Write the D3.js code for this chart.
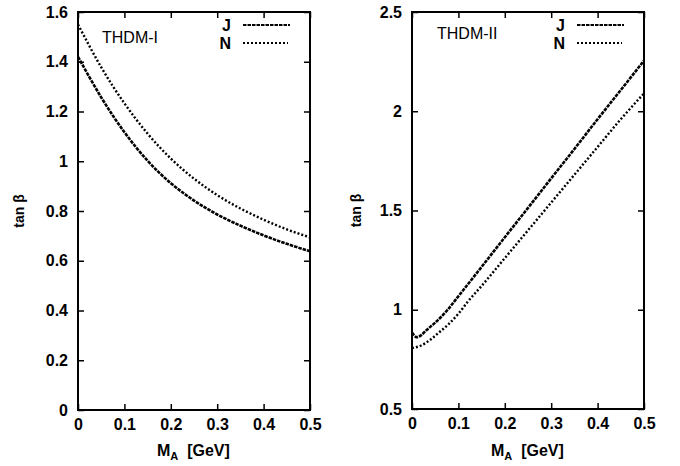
<!DOCTYPE html>
<html>
<head>
<meta charset="utf-8">
<script src="https://cdn.jsdelivr.net/npm/d3@7"></script>
<style>
body { margin: 0; background: #fff; }
text { font-family: "Liberation Sans", Arial, sans-serif; fill: #000; }
</style>
</head>
<body>
<div class="container"></div>
<script>
const width = 680
const height = 466

// M_A values [GeV]
const mA1 = [0, 0.05, 0.1, 0.15, 0.2, 0.25, 0.3, 0.35, 0.4, 0.45, 0.5]
const typeI_J = [1.42, 1.257, 1.117, 1.002, 0.912, 0.842, 0.786, 0.741, 0.702, 0.668, 0.638]
const typeI_N = [1.55, 1.378, 1.233, 1.111, 1.011, 0.930, 0.864, 0.810, 0.765, 0.726, 0.694]

const mA2J = [0, 0.01, 0.02, 0.03, 0.04, 0.05, 0.075, 0.1, 0.15, 0.2, 0.25, 0.3, 0.35, 0.4, 0.45, 0.5]
const typeII_J = [0.885, 0.862, 0.872, 0.895, 0.915, 0.935, 0.995, 1.068, 1.216, 1.365, 1.513, 1.662, 1.81, 1.96, 2.107, 2.255]
const mA2N = [0, 0.02, 0.04, 0.06, 0.08, 0.1, 0.12, 0.15, 0.2, 0.25, 0.3, 0.35, 0.4, 0.45, 0.5]
const typeII_N = [0.807, 0.82, 0.85, 0.889, 0.93, 0.98, 1.04, 1.12, 1.26, 1.40, 1.54, 1.68, 1.82, 1.96, 2.09]

const xTicks = [0, 0.1, 0.2, 0.3, 0.4, 0.5]
const yTicks1 = [0, 0.2, 0.4, 0.6, 0.8, 1, 1.2, 1.4, 1.6]
const yTicks2 = [0.5, 1, 1.5, 2, 2.5]

var svg = d3.select('.container')
    .append('svg')
    .attr('width', width)
    .attr('height', height)

function panel(opts) {
    var x = d3.scaleLinear().domain([0, 0.5]).range([opts.left, opts.right])
    var y = d3.scaleLinear().domain(opts.yDomain).range([opts.bottom, opts.top])
    var g = svg.append('g')
    var tl = 6

    // bottom axis
    g.append('g')
        .attr('transform', 'translate(0,' + opts.bottom + ')')
        .call(d3.axisBottom(x).tickValues(xTicks).tickSizeInner(-tl).tickSizeOuter(0)
            .tickPadding(9).tickFormat(d3.format('')))
    // top mirror
    g.append('g')
        .attr('transform', 'translate(0,' + opts.top + ')')
        .call(d3.axisTop(x).tickValues(xTicks).tickSizeInner(-tl).tickSizeOuter(0).tickFormat(''))
    // left axis
    g.append('g')
        .attr('transform', 'translate(' + opts.left + ',0)')
        .call(d3.axisLeft(y).tickValues(opts.yTicks).tickSizeInner(-tl).tickSizeOuter(0)
            .tickPadding(10).tickFormat(d3.format('')))
    // right mirror
    g.append('g')
        .attr('transform', 'translate(' + opts.right + ',0)')
        .call(d3.axisRight(y).tickValues(opts.yTicks).tickSizeInner(-tl).tickSizeOuter(0).tickFormat(''))

    g.selectAll('.domain').remove()
    g.selectAll('.tick line').attr('stroke', '#000').attr('stroke-width', 1.5)
    g.selectAll('.tick text')
        .style('font-size', '16px')
        .style('font-weight', 'bold')
        .style('font-family', '"Liberation Sans", Arial, sans-serif')

    g.append('rect')
        .attr('x', opts.left)
        .attr('y', opts.top)
        .attr('width', opts.right - opts.left)
        .attr('height', opts.bottom - opts.top)
        .attr('fill', 'none')
        .attr('stroke', '#000')
        .attr('stroke-width', 2)

    var line = d3.line()
        .x(d => x(d[0]))
        .y(d => y(d[1]))
        .curve(opts.curve)

    g.append('path')
        .datum(opts.jx.map((m, i) => [m, opts.jy[i]]))
        .attr('d', line)
        .attr('fill', 'none')
        .attr('stroke', '#000')
        .attr('stroke-width', 2.6)
        .attr('stroke-dasharray', '3.5,1')

    g.append('path')
        .datum(opts.nx.map((m, i) => [m, opts.ny[i]]))
        .attr('d', line)
        .attr('fill', 'none')
        .attr('stroke', '#000')
        .attr('stroke-width', 2.4)
        .attr('stroke-dasharray', '2,2')

    // title
    g.append('text')
        .attr('x', opts.titleX)
        .attr('y', opts.titleY)
        .style('font-size', '16px')
        .text(opts.title)

    // legend
    var legX = opts.legX
    g.append('text').attr('x', legX - 12).attr('y', 31)
        .attr('text-anchor', 'end')
        .style('font-size', '16px').style('font-weight', 'bold').text('J')
    g.append('text').attr('x', legX - 12).attr('y', 49)
        .attr('text-anchor', 'end')
        .style('font-size', '16px').style('font-weight', 'bold').text('N')
    g.append('line')
        .attr('x1', legX).attr('x2', legX + 47).attr('y1', 25).attr('y2', 25)
        .attr('stroke', '#000').attr('stroke-width', 2).attr('stroke-dasharray', '3.5,1')
    g.append('line')
        .attr('x1', legX).attr('x2', legX + 45).attr('y1', 43).attr('y2', 43)
        .attr('stroke', '#000').attr('stroke-width', 2).attr('stroke-dasharray', '2,2')

    // axis labels
    var xl = g.append('text')
        .attr('x', (opts.left + opts.right) / 2 - 37)
        .attr('y', 456)
        .attr('xml:space', 'preserve')
        .style('font-size', '16px')
        .style('font-weight', 'bold')
    xl.append('tspan').text('M')
    xl.append('tspan').attr('dy', 4).style('font-size', '11px').text('A')
    xl.append('tspan').attr('dy', -4).text('  [GeV]')

    g.append('text')
        .attr('transform', 'translate(' + opts.yLabelX + ',' + ((opts.top + opts.bottom) / 2) + ') rotate(-90)')
        .attr('text-anchor', 'middle')
        .style('font-size', '14px')
        .style('font-weight', 'bold')
        .text('tan β')
}

panel({
    left: 78, right: 310, top: 12, bottom: 410,
    yDomain: [0, 1.6], yTicks: yTicks1,
    jx: mA1, jy: typeI_J, nx: mA1, ny: typeI_N,
    curve: d3.curveNatural,
    title: 'THDM-I', titleX: 102, titleY: 43,
    legX: 243, yLabelX: 24
})

panel({
    left: 412, right: 644, top: 12, bottom: 409,
    yDomain: [0.5, 2.5], yTicks: yTicks2,
    jx: mA2J, jy: typeII_J, nx: mA2N, ny: typeII_N,
    curve: d3.curveMonotoneX,
    title: 'THDM-II', titleX: 437, titleY: 39,
    legX: 577, yLabelX: 361
})
</script>
</body>
</html>
